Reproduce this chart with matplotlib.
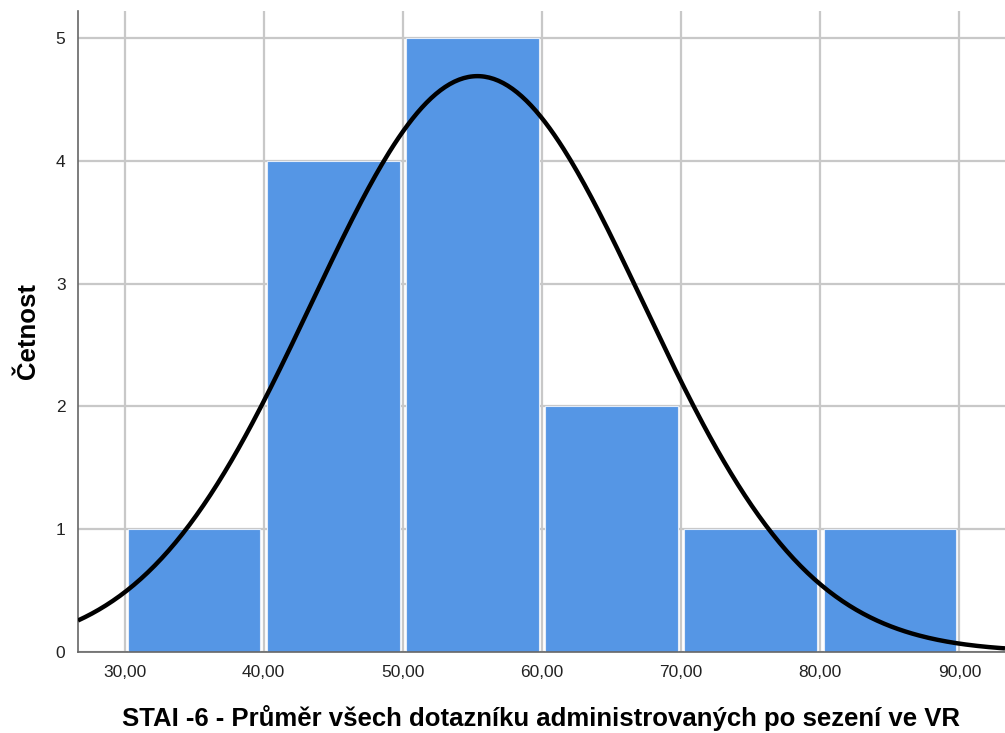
import numpy as np
import matplotlib
matplotlib.use("Agg")
import matplotlib.pyplot as plt

# Data
bin_edges = [30, 40, 50, 60, 70, 80, 90]
counts = [1, 4, 5, 2, 1, 1]
n_total = 14
mean_val = 55.36
sd_val = 11.91
x_ticks = [30, 40, 50, 60, 70, 80, 90]
x_tick_labels = ["30,00", "40,00", "50,00", "60,00", "70,00", "80,00", "90,00"]
y_ticks = [0, 1, 2, 3, 4, 5]
x_label = "STAI -6 - Průměr všech dotazníku administrovaných po sezení ve VR"
y_label = "Četnost"

plt.rcParams['font.family'] = ['Liberation Sans', 'DejaVu Sans']

fig = plt.figure(figsize=(10.05, 7.33), dpi=100)
ax = fig.add_axes([0.0776, 0.1105, 0.9224, 0.8745])

ax.set_xlim(26.65, 93.28)
ax.set_ylim(0, 5.22)

ax.set_axisbelow(True)
ax.grid(True, color="#c8c8c8", linewidth=1.6)

inset = 0.24
lefts = np.array(bin_edges[:-1]) + inset
widths = np.diff(bin_edges) - 2 * inset
ax.bar(lefts, counts, width=widths, align="edge", color="#5596e5",
       edgecolor="#e3ecf8", linewidth=0.8, zorder=2)

xs = np.linspace(26.65, 93.28, 400)
binw = bin_edges[1] - bin_edges[0]
ys = n_total * binw / (sd_val * np.sqrt(2 * np.pi)) * np.exp(-0.5 * ((xs - mean_val) / sd_val) ** 2)
ax.plot(xs, ys, color="black", linewidth=3.2, zorder=3, solid_capstyle="butt")

ax.set_xticks(x_ticks)
ax.set_xticklabels(x_tick_labels)
ax.set_yticks(y_ticks)
ax.tick_params(axis="both", length=0, labelsize=12.5, colors="#222222")
ax.tick_params(axis="x", pad=9)
ax.tick_params(axis="y", pad=9)

for s in ["top", "right"]:
    ax.spines[s].set_visible(False)
for s in ["left", "bottom"]:
    ax.spines[s].set_color("#666666")
    ax.spines[s].set_linewidth(1.2)

ax.set_xlabel(x_label, fontsize=18.5, fontweight="bold", labelpad=18)
ax.set_ylabel(y_label, fontsize=18.5, fontweight="bold", labelpad=11)

fig.savefig("out.png", dpi=100)
